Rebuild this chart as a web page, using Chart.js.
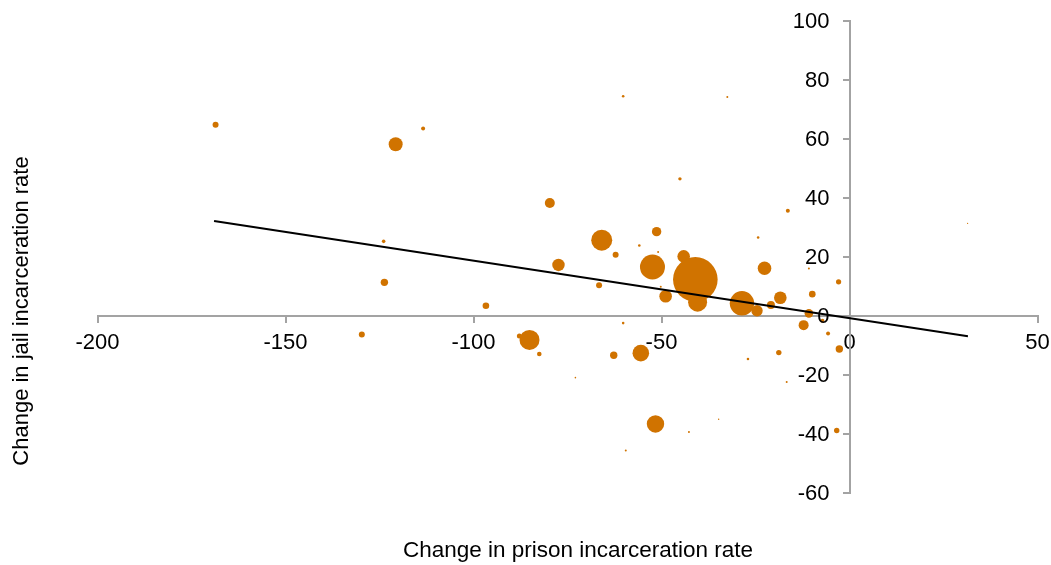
<!DOCTYPE html>
<html>
<head>
<meta charset="utf-8">
<title>Change in jail vs prison incarceration rate</title>
<script src="https://cdn.jsdelivr.net/npm/chart.js@4/dist/chart.umd.min.js"></script>
<style>
  body { margin: 0; background: #fff; }
  #wrap { width: 1051px; height: 565px; }
</style>
</head>
<body>
<div id="wrap"><canvas id="myChart" width="1051" height="565"></canvas></div>
<script>
// data
var prisonChange = [-168.6, -120.7, -113.4, -123.9, -123.7, -96.7, -129.7, -85.1, -87.8, -82.5,
  -62.7, -60.2, -72.9, -66.6, -77.4, -65.9, -62.2, -60.2, -45.1, -79.7,
  -51.3, -55.9, -50.9, -52.4, -44.1, -41.0, -40.4, -48.9, -50.2, -28.6,
  -24.6, -20.9, -18.4, -22.6, -24.3, -10.8, -9.9, -2.9, -10.8, -12.2,
  -7.2, -5.7, -2.7, -18.8, -27.0, -16.7, -3.4, -34.8, -42.7, -51.6,
  -55.5, -59.5, -32.5, -16.4, 31.4];
var jailChange = [64.8, 58.2, 63.6, 25.3, 11.4, 3.5, -6.3, -8.1, -6.8, -12.9,
  -13.3, -2.4, -20.9, 10.4, 17.3, 25.7, 20.8, 74.5, 46.5, 38.3,
  28.6, 23.9, 21.7, 16.6, 20.2, 12.4, 4.7, 6.7, 9.9, 4.3,
  1.8, 3.7, 6.2, 16.2, 26.6, 16.1, 7.4, 11.6, 0.9, -3.1,
  -1.6, -5.9, -11.2, -12.4, -14.6, -22.4, -38.8, -35.0, -39.3, -36.6,
  -12.6, -45.6, 74.2, 35.7, 31.4];
var bubbleSize = [3, 7, 2, 1.8, 3.7, 3.3, 3, 10, 2.5, 2.3,
  3.7, 1.3, 0.8, 3, 6.2, 10.5, 3, 1.3, 1.7, 5,
  4.7, 1.3, 1, 12.5, 6.3, 22.3, 9.5, 6.3, 1, 12.2,
  5.7, 4, 6.3, 6.8, 1.3, 1, 3.3, 2.6, 4.3, 5,
  2, 2, 3.7, 2.7, 1.3, 1, 2.7, 0.7, 1, 8.7,
  8.3, 1, 1, 2, 0.7];

// linear trend line end points
var trendX = [-169, 31.5];
var trendY = [32.2, -6.9];

var xTicks = [-200, -150, -100, -50, 0, 50];
var yTicks = [100, 80, 60, 40, 20, 0, -20, -40, -60];

var xTitle = 'Change in prison incarceration rate';
var yTitle = 'Change in jail incarceration rate';

var bubbles = prisonChange.map(function (x, i) {
  return { x: x, y: jailChange[i], r: bubbleSize[i] };
});
var trend = trendX.map(function (x, i) {
  return { x: x, y: trendY[i] };
});

var fontFamily = "Arial, 'Liberation Sans', sans-serif";
var axisGray = '#a3a3a3';

// centered axes: drop the label overflow padding so the plot area stays put
function noPadding(scale) {
  scale.paddingTop = 0;
  scale.paddingBottom = 0;
  scale.paddingLeft = 0;
  scale.paddingRight = 0;
}

// y labels left of the crossed axis, and the two axis titles
var axisText = {
  id: 'axisText',
  afterDraw: function (chart) {
    var c = chart.ctx;
    var xs = chart.scales.x;
    var ys = chart.scales.y;
    var axisX = xs.getPixelForValue(0);
    c.save();
    c.fillStyle = '#000';
    c.font = '22px ' + fontFamily;
    c.textAlign = 'right';
    c.textBaseline = 'middle';
    yTicks.forEach(function (v) {
      c.fillText(String(v), axisX - 20, ys.getPixelForValue(v) + 1);
    });
    c.textAlign = 'center';
    c.font = '22.5px ' + fontFamily;
    c.fillText(xTitle, 578, 551);
    c.font = '22px ' + fontFamily;
    c.translate(22, 311);
    c.rotate(-Math.PI / 2);
    c.fillText(yTitle, 0, 0);
    c.restore();
  }
};

var ctx = document.getElementById('myChart').getContext('2d');
var chart = new Chart(ctx, {
  type: 'bubble',
  data: {
    datasets: [{
      type: 'scatter',
      data: trend,
      showLine: true,
      borderColor: '#000',
      borderWidth: 2,
      pointRadius: 0,
      order: 0
    }, {
      data: bubbles,
      backgroundColor: '#d07300',
      borderWidth: 0,
      order: 1
    }]
  },
  options: {
    responsive: false,
    animation: false,
    layout: {
      autoPadding: false,
      padding: { left: 97.5, right: 13.5, top: 21, bottom: 72 }
    },
    plugins: {
      legend: { display: false },
      tooltip: { enabled: false }
    },
    scales: {
      x: {
        type: 'linear',
        position: { y: 0 },
        min: -200,
        max: 50,
        afterBuildTicks: function (scale) {
          scale.ticks = xTicks.map(function (v) { return { value: v }; });
        },
        afterFit: noPadding,
        ticks: {
          color: '#000',
          padding: 8,
          maxRotation: 0,
          font: { family: fontFamily, size: 22 }
        },
        grid: { drawOnChartArea: false, tickLength: 6, color: axisGray, lineWidth: 2 },
        border: { color: axisGray, width: 2 }
      },
      y: {
        type: 'linear',
        position: { x: 0 },
        min: -60,
        max: 100,
        afterBuildTicks: function (scale) {
          scale.ticks = yTicks.map(function (v) { return { value: v }; });
        },
        afterFit: noPadding,
        ticks: { display: false },
        grid: { drawOnChartArea: false, tickLength: 6, color: axisGray, lineWidth: 2 },
        border: { color: axisGray, width: 2 }
      }
    }
  },
  plugins: [axisText]
});
</script>
</body>
</html>
